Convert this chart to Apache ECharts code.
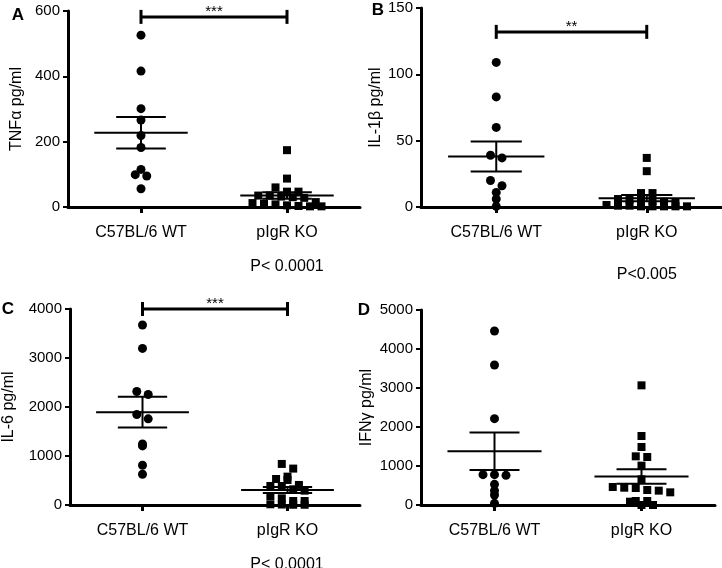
<!DOCTYPE html>
<html>
<head>
<meta charset="utf-8">
<script src="https://cdn.jsdelivr.net/npm/echarts@6/dist/echarts.min.js"></script>
<style>
  html, body { margin: 0; padding: 0; background: #fff; }
  #main { width: 722px; height: 568px; }
</style>
</head>
<body>
<div id="main"></div>
<script>
// groups on the x axis
const groups = ['C57BL/6 WT', 'pIgR KO'];

const tnfWT = [526, 416, 301, 266, 219, 182, 115, 99, 95, 56];
const tnfKO = [174, 87, 60, 47, 47, 35, 35, 32, 30, 28, 15, 12, 10, 8, 5, 3, 2, 2];
const il1bWT = [109, 83, 60, 39, 37, 20, 16, 11, 6, 0.5];
const il1bKO = [37, 27, 10.5, 10.5, 6, 5.5, 5, 4.5, 4, 3.5, 1.5, 1, 1, 0.5, 0.5, 0.5, 0.5, 0.5];
const il6WT = [3673, 3196, 2317, 2256, 1847, 1758, 1247, 1206, 811, 627];
const il6KO = [838, 743, 579, 531, 511, 409, 388, 388, 320, 293, 184, 136, 82, 82, 15, 10, 5, 5];
const ifngWT = [4462, 3590, 2214, 778, 778, 761, 530, 368, 256, 43];
const ifngKO = [3068, 1769, 1487, 1248, 1231, 1009, 658, 462, 444, 436, 385, 368, 325, 103, 103, 85, 0, 0];

// per panel axis settings and annotations
const panelLetters = ['A', 'B', 'C', 'D'];
const yNames = ['TNFα pg/ml', 'IL-1β pg/ml', 'IL-6 pg/ml', 'IFNγ pg/ml'];
const yMax = [600, 150, 4000, 5000];
const yStep = [200, 50, 1000, 1000];
const sigStars = ['***', '**', '***', null];
const sigLevel = [582, 132, 4000, null];
const pValues = ['P< 0.0001', 'P<0.005', 'P< 0.0001', null];

const panelData = [[tnfWT, tnfKO], [il1bWT, il1bKO], [il6WT, il6KO], [ifngWT, ifngKO]];

// layout
const grids = [
  { left: 68, top: 11, width: 292, height: 196 },
  { left: 421, top: 8, width: 301, height: 199 },
  { left: 68, top: 309, width: 292, height: 196 },
  { left: 421, top: 310, width: 294, height: 195 }
];
const nameGaps = [43, 37, 53, 46];
const letterPos = [[18, 15], [378, 10], [8, 309], [364, 310]];
const FONT = '"Liberation Sans", Arial, sans-serif';

function meanSem(arr) {
  const n = arr.length;
  const m = arr.reduce((a, b) => a + b, 0) / n;
  const v = arr.reduce((a, b) => a + (b - m) * (b - m), 0) / (n - 1);
  return [m, Math.sqrt(v / n)];
}

// prism style scatter: points falling in the same row get spread sideways
function swarm(values, pxPerY, pxPerX) {
  const binH = 8, step = 11.5;
  const bins = {};
  values.forEach((v, i) => {
    const b = Math.round(v * pxPerY / binH);
    (bins[b] = bins[b] || []).push(i);
  });
  const off = new Array(values.length).fill(0);
  Object.keys(bins).forEach(k => {
    const list = bins[k];
    const n = list.length;
    list.forEach((idx, j) => { off[idx] = (j - (n - 1) / 2) * step / pxPerX; });
  });
  return off;
}

function errorBar(params, api) {
  const x = api.value(0), m = api.value(1), s = api.value(2);
  const st = { stroke: '#000', lineWidth: 2 };
  const seg = (x1, y1, x2, y2) => {
    const a = api.coord([x1, y1]), b = api.coord([x2, y2]);
    return { type: 'line', shape: { x1: a[0], y1: a[1], x2: b[0], y2: b[1] }, style: st };
  };
  return {
    type: 'group',
    children: [
      seg(x - 0.32, m, x + 0.32, m),
      seg(x - 0.17, m + s, x + 0.17, m + s),
      seg(x - 0.17, m - s, x + 0.17, m - s),
      seg(x, m - s, x, m + s)
    ]
  };
}

function bracket(params, api) {
  const a = api.coord([api.value(0), api.value(2)]);
  const b = api.coord([api.value(1), api.value(2)]);
  const st = { stroke: '#000', lineWidth: 3 };
  return {
    type: 'group',
    children: [
      { type: 'line', shape: { x1: a[0], y1: a[1], x2: b[0], y2: b[1] }, style: st },
      { type: 'line', shape: { x1: a[0], y1: a[1] - 7, x2: a[0], y2: a[1] + 7 }, style: st },
      { type: 'line', shape: { x1: b[0], y1: b[1] - 7, x2: b[0], y2: b[1] + 7 }, style: st },
      { type: 'text', style: { x: (a[0] + b[0]) / 2, y: a[1] - 5, text: sigStars[params.seriesIndex % 4] || '', fill: '#000', font: '15px ' + FONT, align: 'center', verticalAlign: 'middle' } }
    ]
  };
}

const xAxes = [], yAxes = [], series = [], graphics = [];

grids.forEach((g, p) => {
  xAxes.push({
    type: 'value', gridIndex: p, min: 0.5, max: 2.5,
    splitLine: { show: false },
    axisLine: { show: true, onZero: false, lineStyle: { color: '#000', width: 3 } },
    axisTick: { show: true, customValues: [1, 2], length: 6, lineStyle: { color: '#000', width: 3 } },
    axisLabel: {
      customValues: [1, 2], margin: 18, color: '#000', fontSize: 16, fontFamily: FONT,
      formatter: v => groups[Math.round(v) - 1]
    }
  });
  yAxes.push({
    type: 'value', gridIndex: p, min: 0, max: yMax[p], interval: yStep[p],
    name: yNames[p], nameLocation: 'middle', nameGap: nameGaps[p], nameRotate: 90,
    nameTextStyle: { color: '#000', fontSize: 16, fontFamily: FONT },
    splitLine: { show: false },
    axisLine: { show: true, lineStyle: { color: '#000', width: 3 } },
    axisTick: { show: true, length: 5, lineStyle: { color: '#000', width: 2 } },
    axisLabel: { margin: 8, color: '#000', fontSize: 15, fontFamily: FONT, formatter: v => String(v) }
  });
});

// brackets first so the series index maps to the panel
grids.forEach((g, p) => {
  series.push({
    type: 'custom', xAxisIndex: p, yAxisIndex: p, renderItem: bracket, clip: false, silent: true, z: 5,
    data: sigLevel[p] == null ? [] : [[1, 2, sigLevel[p]]]
  });
});

grids.forEach((g, p) => {
  const pxPerY = g.height / yMax[p];
  const pxPerX = g.width / 2;
  panelData[p].forEach((vals, gi) => {
    const off = swarm(vals, pxPerY, pxPerX);
    series.push({
      type: 'scatter', xAxisIndex: p, yAxisIndex: p, clip: false, silent: true,
      symbol: gi === 0 ? 'circle' : 'rect', symbolSize: gi === 0 ? 9 : 8,
      itemStyle: { color: '#000', opacity: 1 },
      data: vals.map((v, i) => [gi + 1 + off[i], v])
    });
  });
  series.push({
    type: 'custom', xAxisIndex: p, yAxisIndex: p, renderItem: errorBar, clip: false, silent: true, z: 4,
    data: panelData[p].map((vals, gi) => [gi + 1].concat(meanSem(vals)))
  });

  graphics.push({
    type: 'text', x: letterPos[p][0], y: letterPos[p][1],
    style: { text: panelLetters[p], fill: '#000', font: 'bold 17px ' + FONT, align: 'center', verticalAlign: 'middle' }
  });
  if (pValues[p]) {
    graphics.push({
      type: 'text', x: g.left + g.width * 0.75, y: g.top + g.height + (p === 1 ? 68 : 60),
      style: { text: pValues[p], fill: '#000', font: '16px ' + FONT, align: 'center', verticalAlign: 'middle' }
    });
  }
});

const chart = echarts.init(document.getElementById('main'), null, { renderer: 'canvas' });
chart.setOption({
  backgroundColor: '#fff',
  animation: false,
  grid: grids,
  xAxis: xAxes,
  yAxis: yAxes,
  series: series,
  graphic: graphics
});
</script>
</body>
</html>
